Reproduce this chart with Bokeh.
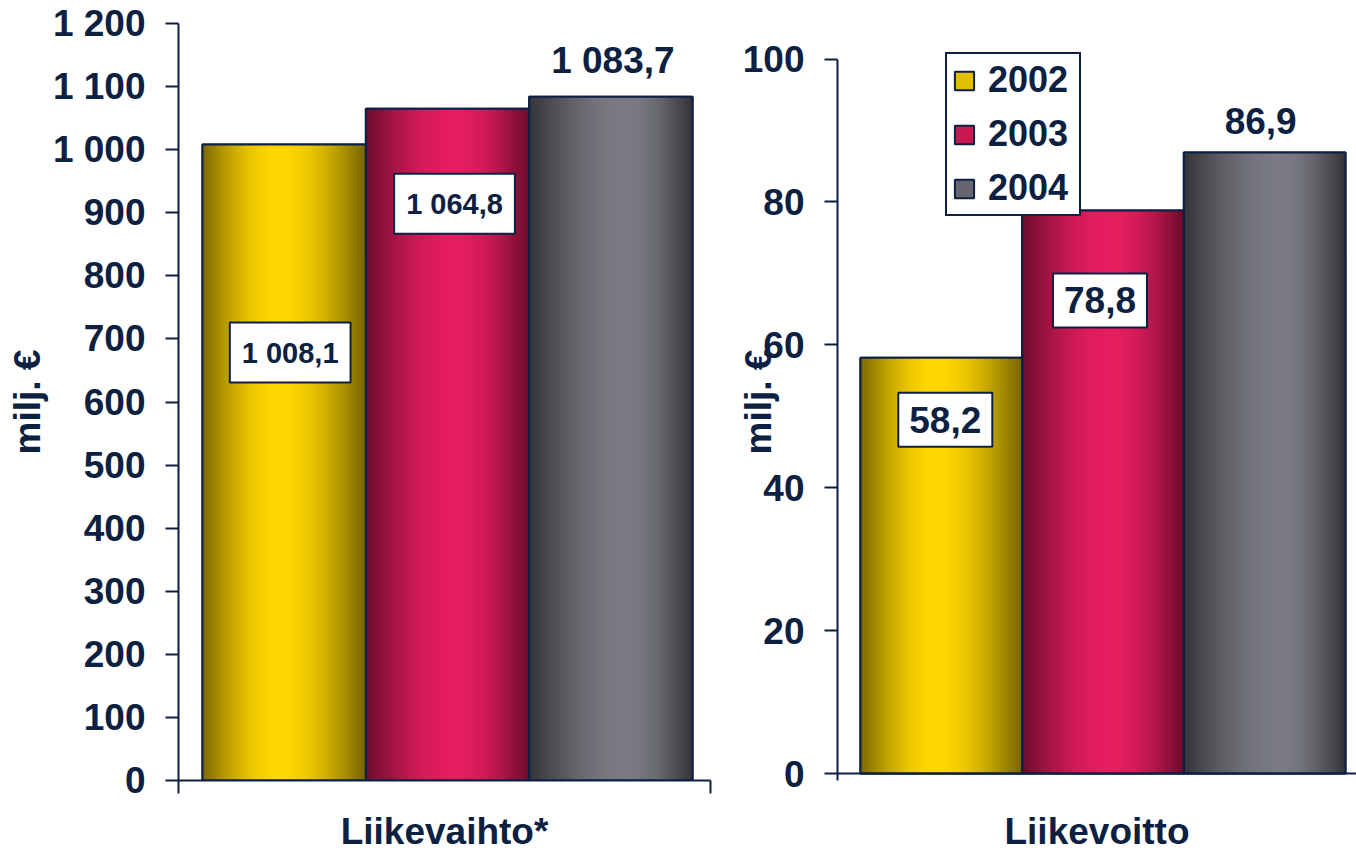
import math
from bokeh.plotting import figure
from bokeh.layouts import row
from bokeh.models import Range1d, FixedTicker, Label, Legend, LegendItem, ColumnDataSource, Span
from bokeh.embed import file_html
from bokeh.resources import INLINE

# ---------------- data ----------------
years = ["2002", "2003", "2004"]
panel_titles = ["Liikevaihto*", "Liikevoitto"]
y_title = "milj. €"
liikevaihto = [1008.1, 1064.8, 1083.7]
liikevoitto = [58.2, 78.8, 86.9]
ticks_left = [0, 100, 200, 300, 400, 500, 600, 700, 800, 900, 1000, 1100, 1200]
ticks_right = [0, 20, 40, 60, 80, 100]

# ---------------- style ----------------
NAVY = "#0C2142"
FONT = "Liberation Sans"
# (left edge, highlight, right edge, highlight position) per series
SHADES = [("#7A6800", "#FFD600", "#766500", 0.47),
          ("#690D2C", "#E61E5F", "#6B0D2D", 0.55),
          ("#333439", "#7A7B83", "#333439", 0.60)]
BASE_FILL = ["#E3BE00", "#C8184F", "#65666D"]
N_SLICES = 60


def hex2rgb(h):
    h = h.lstrip("#")
    return [int(h[i:i + 2], 16) for i in (0, 2, 4)]


def shade(series, t):
    left, mid, right, pk = SHADES[series]
    if t <= pk:
        a, b, f = hex2rgb(left), hex2rgb(mid), math.sin(math.pi / 2 * t / pk)
    else:
        a, b, f = hex2rgb(right), hex2rgb(mid), math.sin(math.pi / 2 * (1 - t) / (1 - pk))
    c = [round(a[k] + (b[k] - a[k]) * f) for k in range(3)]
    return "#%02x%02x%02x" % tuple(c)


def fi(v):
    return f"{v:,.1f}".replace(",", " ").replace(".", ",")


def fint(v):
    return f"{v:,}".replace(",", " ")


def make_panel(values, ticks, width, height, x_range, y_range, y_bounds, borders,
               y_label_standoff, label_specs):
    bl, br, bt, bb = borders
    p = figure(width=width, height=height, output_backend="svg", toolbar_location=None,
               x_range=Range1d(*x_range), y_range=Range1d(*y_range),
               min_border_left=bl, min_border_right=br, min_border_top=bt, min_border_bottom=bb)
    p.outline_line_color = None
    p.grid.visible = False
    p.background_fill_color = "white"
    p.border_fill_color = "white"

    # one base bar per year (solid fill, used by the legend)
    base = []
    for i, v in enumerate(values):
        base.append(p.quad(left=[i], right=[i + 1], top=[v], bottom=[0],
                           fill_color=BASE_FILL[i], line_color=NAVY, line_width=2))

    # gradient slices for each bar
    lefts, rights, tops, colors = [], [], [], []
    for i, v in enumerate(values):
        for k in range(N_SLICES):
            lefts.append(i + k / N_SLICES)
            rights.append(i + (k + 1) / N_SLICES)
            tops.append(v)
            colors.append(shade(i, (k + 0.5) / N_SLICES))
    src = ColumnDataSource(dict(left=lefts, right=rights, top=tops,
                                bottom=[0] * len(tops), color=colors))
    p.quad(left="left", right="right", top="top", bottom="bottom", source=src,
           fill_color="color", line_color="color", line_width=1)
    # bar outlines
    p.quad(left=list(range(len(values))), right=[i + 1 for i in range(len(values))],
           top=values, bottom=[0] * len(values), fill_color=None,
           line_color=NAVY, line_width=2)

    # axes
    yax = p.yaxis[0]
    yax.ticker = FixedTicker(ticks=ticks)
    yax.major_label_overrides = {t: fint(t) for t in ticks}
    yax.bounds = y_bounds
    xax = p.xaxis[0]
    xax.ticker = FixedTicker(ticks=[x_range[0], x_range[1]])
    xax.major_label_overrides = {x_range[0]: "", x_range[1]: ""}
    xax.major_label_text_font_size = "0px"
    for ax in (xax, yax):
        ax.axis_line_color = NAVY
        ax.axis_line_width = 2
        ax.major_tick_line_color = NAVY
        ax.major_tick_line_width = 2
        ax.major_tick_out = 13
        ax.major_tick_in = 0
        ax.minor_tick_out = 0
        ax.minor_tick_in = 0
        ax.minor_tick_line_color = None
        ax.axis_label_text_font = FONT
        ax.axis_label_text_font_style = "bold"
        ax.axis_label_text_font_size = "37px"
        ax.axis_label_text_color = NAVY
    yax.major_label_text_font = FONT
    yax.major_label_text_font_style = "bold"
    yax.major_label_text_font_size = "37px"
    yax.major_label_text_color = NAVY
    yax.major_label_standoff = 20
    yax.axis_label = y_title
    yax.axis_label_standoff = y_label_standoff

    # value labels
    for i, v in enumerate(values):
        dx, dy, boxed, size, pad = label_specs[i]
        lab = Label(x=i + 0.5, y=v, x_offset=dx, y_offset=dy, text=fi(v),
                    text_align="center", text_baseline="middle",
                    text_font=FONT, text_font_style="bold", text_font_size=size,
                    text_color=NAVY)
        if boxed:
            lab.background_fill_color = "white"
            lab.border_line_color = NAVY
            lab.border_line_width = 2
            lab.padding = pad
        p.add_layout(lab)
    return p, base


H = 854
BORDER_TOP, BORDER_BOTTOM = 23, 72

p1, _ = make_panel(
    liikevaihto, ticks_left, 720, H,
    (-0.147, 3.110), (0, 1200), (0, 1200), (178, 10, BORDER_TOP, BORDER_BOTTOM), 2,
    [(6, -208, True, "29px", dict(left=12, right=12, top=14, bottom=14)),
     (7, -95, True, "29px", dict(left=12, right=12, top=14, bottom=14)),
     (2, 36, False, "37px", None)])
p1.xaxis[0].axis_label = panel_titles[0]
p1.xaxis[0].axis_label_standoff = 17

p2, base2 = make_panel(
    liikevoitto, ticks_right, 636, H,
    (-0.142, 3.068), (-0.977, 104.97), (-0.977, 100), (117, 0, BORDER_TOP, BORDER_BOTTOM), -39,
    [(4, -62, True, "37px", dict(left=11, right=11, top=14, bottom=14)),
     (-3, -90, True, "37px", dict(left=11, right=11, top=14, bottom=14)),
     (-4, 32, False, "37px", None)])
# right panel: baseline at value 0, category title in the bottom axis
x2 = p2.xaxis[0]
x2.axis_line_color = None
x2.major_tick_line_color = None
x2.major_tick_out = 0
x2.ticker = FixedTicker(ticks=[])
x2.axis_label = panel_titles[1]
x2.axis_label_standoff = 30
p2.add_layout(Span(location=0, dimension="width", line_color=NAVY, line_width=2))

# legend (on the right panel)
items = [LegendItem(label=y, renderers=[base2[i]]) for i, y in enumerate(years)]
legend = Legend(items=items, location=(108, 564), orientation="vertical",
                label_text_font=FONT, label_text_font_style="bold",
                label_text_font_size="36px", label_text_color=NAVY,
                glyph_width=24, glyph_height=23, label_standoff=12, label_width=86,
                padding=5, spacing=12, margin=0,
                border_line_color=NAVY, border_line_width=2, border_line_alpha=1,
                background_fill_color="white", background_fill_alpha=1)
p2.add_layout(legend)

layout = row(p1, p2, spacing=0)
open("out.html", "w").write(file_html(layout, INLINE))
